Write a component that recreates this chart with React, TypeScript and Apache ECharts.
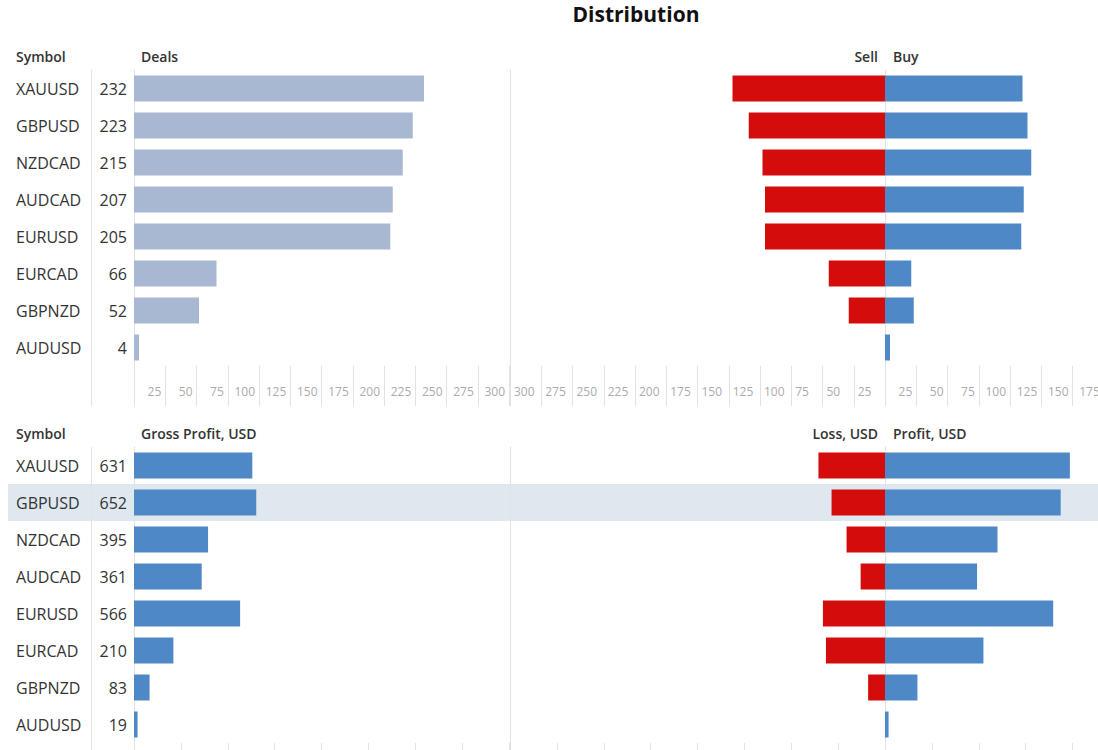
import { useEffect, useRef } from 'react';
import * as echarts from 'echarts';

// Trading symbols, top to bottom
const symbols = ['XAUUSD', 'GBPUSD', 'NZDCAD', 'AUDCAD', 'EURUSD', 'EURCAD', 'GBPNZD', 'AUDUSD'];

// Number of deals per symbol, split into sell and buy
const deals = [232, 223, 215, 207, 205, 66, 52, 4];
const sellDeals = [122, 109, 98, 96, 96, 45, 29, 0];
const buyDeals = [110, 114, 117, 111, 109, 21, 23, 4];

// Gross profit per symbol (profit minus loss), USD
const grossProfit = [631, 652, 395, 361, 566, 210, 83, 19];
const lossUsd = [355, 285, 205, 130, 331, 315, 90, 0];
const profitUsd = [986, 937, 600, 491, 897, 525, 173, 19];

const highlightedSymbol = 'GBPUSD';

const FONT = "'Open Sans', 'Noto Sans', sans-serif";
const LINE = '#e2e2e2';
const TICK_TEXT = '#ababab';
const TEXT = '#333333';
const DEALS_COLOR = '#a9b8d2';
const RED = '#d40c0c';
const BLUE = '#4f88c6';

const ROW_TOPS = [70, 447];
const PLOT_H = 296;

export default function App() {
  const ref = useRef<HTMLDivElement>(null);

  useEffect(() => {
    if (!ref.current) return;
    const chart = echarts.init(ref.current, null, { renderer: 'svg' });

    const gridBox = (left: number, top: number, width: number) => ({
      left,
      top,
      width,
      height: PLOT_H,
      containLabel: false,
      outerBoundsMode: 'none',
    });

    const grids = [
      gridBox(134, ROW_TOPS[0], 375), // deals
      gridBox(510, ROW_TOPS[0], 375), // sell
      gridBox(885, ROW_TOPS[0], 250), // buy
      gridBox(134, ROW_TOPS[1], 375), // gross profit
      gridBox(510, ROW_TOPS[1], 375), // loss
      gridBox(885, ROW_TOPS[1], 375), // profit
    ];

    const valueAxis = (gridIndex: number, max: number, interval: number, inverse: boolean, labels: boolean) => ({
      type: 'value',
      gridIndex,
      min: 0,
      max,
      interval,
      inverse,
      axisLine: { show: false },
      axisTick: { show: true, length: 40, lineStyle: { color: LINE } },
      splitLine: { show: false },
      axisLabel: {
        show: labels,
        color: TICK_TEXT,
        fontSize: 12,
        fontFamily: FONT,
        margin: 19,
        align: inverse ? 'left' : 'right',
        padding: inverse ? [0, 0, 0, 4] : [0, 4, 0, 0],
        formatter: (v: number) => (v === 0 ? '' : String(v)),
      },
    });

    const categoryAxis = (gridIndex: number, showLine: boolean, labels: boolean) => ({
      type: 'category',
      gridIndex,
      data: symbols,
      inverse: true,
      position: 'left',
      axisLine: { show: showLine, onZero: false, lineStyle: { color: LINE } },
      axisTick: { show: false },
      splitLine: { show: false },
      axisLabel: labels
        ? { show: true, align: 'left', margin: 118, color: TEXT, fontSize: 16, fontFamily: FONT }
        : { show: false },
    });

    const bar = (idx: number, data: number[], color: string, withLabel: boolean) => ({
      type: 'bar',
      xAxisIndex: idx,
      yAxisIndex: idx,
      data,
      barWidth: 26,
      itemStyle: { color },
      label: withLabel
        ? {
            show: true,
            position: 'left',
            distance: 7,
            color: TEXT,
            fontSize: 16,
            fontFamily: FONT,
            formatter: '{c}',
          }
        : { show: false },
    });

    const headerText = (text: string, x: number, y: number, align: string) => ({
      type: 'text',
      x,
      y,
      style: {
        text,
        fill: TEXT,
        font: `600 14px ${FONT}`,
        textAlign: align,
        align,
        textVerticalAlign: 'middle',
        verticalAlign: 'middle',
      },
    });

    const divider = (x: number, y1: number, y2: number) => ({
      type: 'line',
      shape: { x1: x, y1, x2: x, y2 },
      style: { stroke: LINE, lineWidth: 1 },
    });

    chart.setOption({
      animation: false,
      backgroundColor: '#ffffff',
      textStyle: { fontFamily: FONT },
      grid: grids,
      xAxis: [
        valueAxis(0, 300, 25, false, true),
        valueAxis(1, 300, 25, true, true),
        valueAxis(2, 200, 25, false, true),
        valueAxis(3, 2000, 250, false, false),
        valueAxis(4, 2000, 250, true, false),
        valueAxis(5, 2000, 250, false, false),
      ],
      yAxis: [
        categoryAxis(0, true, true),
        categoryAxis(1, true, false),
        categoryAxis(2, true, false),
        categoryAxis(3, true, true),
        categoryAxis(4, true, false),
        categoryAxis(5, true, false),
      ],
      series: [
        bar(0, deals, DEALS_COLOR, true),
        bar(1, sellDeals, RED, false),
        bar(2, buyDeals, BLUE, false),
        bar(3, grossProfit, BLUE, true),
        bar(4, lossUsd, RED, false),
        bar(5, profitUsd, BLUE, false),
      ],
      graphic: [
        {
          type: 'text',
          x: 636,
          y: 14,
          style: {
            text: 'Distribution',
            fill: '#111111',
            font: `bold 21px ${FONT}`,
            textAlign: 'center',
            align: 'center',
            textVerticalAlign: 'middle',
            verticalAlign: 'middle',
          },
        },
        headerText('Symbol', 16, 56, 'left'),
        headerText('Deals', 141, 56, 'left'),
        headerText('Sell', 878, 56, 'right'),
        headerText('Buy', 893, 56, 'left'),
        headerText('Symbol', 16, 433, 'left'),
        headerText('Gross Profit, USD', 141, 433, 'left'),
        headerText('Loss, USD', 878, 433, 'right'),
        headerText('Profit, USD', 893, 433, 'left'),
        divider(91.5, ROW_TOPS[0], ROW_TOPS[0] + PLOT_H + 40),
        divider(91.5, ROW_TOPS[1], 750),
      ],
    });

    // Shade the selected symbol's row across the whole lower table
    const idx = symbols.indexOf(highlightedSymbol);
    const yMid = chart.convertToPixel({ yAxisIndex: 3 }, highlightedSymbol) as number;
    const yNext = chart.convertToPixel({ yAxisIndex: 3 }, symbols[idx === 0 ? 1 : idx - 1]) as number;
    const band = Math.abs(yNext - yMid);
    chart.setOption({
      graphic: [
        {
          id: 'row-highlight',
          type: 'rect',
          z: -1,
          shape: { x: 8, y: yMid - band / 2, width: 1090, height: band },
          style: { fill: '#dfe7ef' },
        },
      ],
    });

    return () => chart.dispose();
  }, []);

  return (
    <div
      ref={ref}
      style={{ position: 'absolute', left: 0, top: 0, width: 1098, height: 750 }}
    />
  );
}
